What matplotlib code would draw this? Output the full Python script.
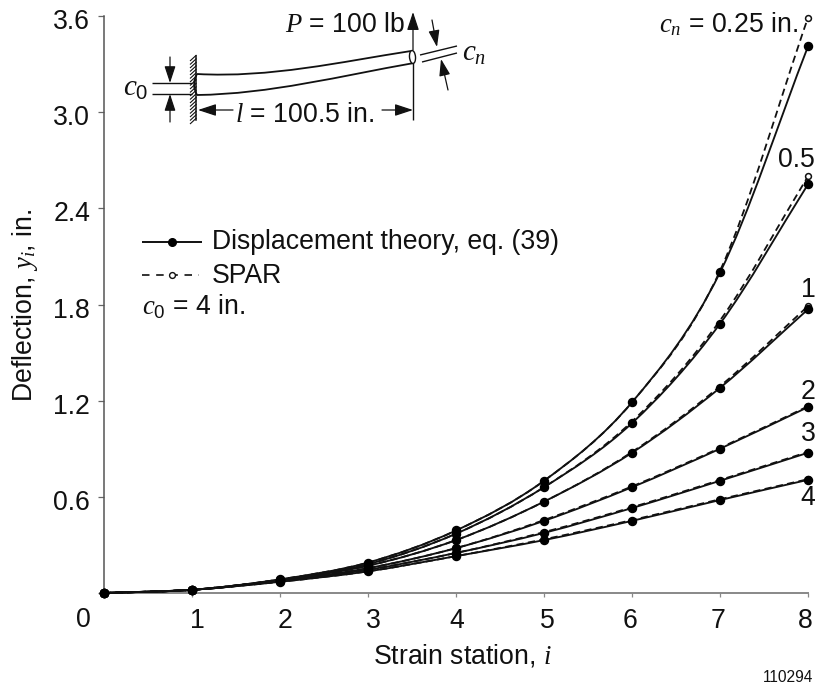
import numpy as np
import matplotlib
matplotlib.use("Agg")
import matplotlib.pyplot as plt
from matplotlib.path import Path
from matplotlib.patches import PathPatch, Ellipse
from matplotlib.transforms import ScaledTranslation

plt.rcParams['font.family'] = ['Liberation Sans']
plt.rcParams['mathtext.fontset'] = 'custom'
plt.rcParams['mathtext.rm'] = 'Liberation Sans'
plt.rcParams['mathtext.it'] = 'Liberation Serif:italic'
plt.rcParams['mathtext.default'] = 'regular'

stations = [0, 1, 2, 3, 4, 5, 6, 7, 8]
disp_025 = [0, 0.02, 0.085, 0.19, 0.39, 0.70, 1.19, 2.00, 3.41]
disp_05 = [0, 0.02, 0.083, 0.18, 0.37, 0.66, 1.06, 1.68, 2.55]
disp_1 = [0, 0.02, 0.08, 0.17, 0.33, 0.57, 0.875, 1.28, 1.77]
disp_2 = [0, 0.02, 0.076, 0.155, 0.28, 0.45, 0.66, 0.90, 1.16]
disp_3 = [0, 0.02, 0.073, 0.145, 0.25, 0.375, 0.53, 0.70, 0.875]
disp_4 = [0, 0.02, 0.07, 0.135, 0.23, 0.33, 0.45, 0.58, 0.706]
spar_025 = [0, 0.02, 0.085, 0.19, 0.39, 0.70, 1.19, 2.01, 3.59]
spar_05 = [0, 0.02, 0.083, 0.18, 0.37, 0.66, 1.07, 1.70, 2.60]
spar_1 = [0, 0.02, 0.08, 0.17, 0.33, 0.57, 0.88, 1.29, 1.79]
spar_2 = [0, 0.02, 0.076, 0.155, 0.28, 0.455, 0.665, 0.905, 1.165]
spar_3 = [0, 0.02, 0.073, 0.145, 0.25, 0.38, 0.535, 0.705, 0.88]
spar_4 = [0, 0.02, 0.07, 0.135, 0.23, 0.335, 0.455, 0.585, 0.71]
solid_series = [disp_025, disp_05, disp_1, disp_2, disp_3, disp_4]
spar_series = [spar_025, spar_05, spar_1, spar_2, spar_3, spar_4]
y_ticks = [0, 0.6, 1.2, 1.8, 2.4, 3.0, 3.6]
y_tick_labels = ['', '0.6', '1.2', '1.8', '2.4', '3.0', '3.6']
x_tick_labels = ['', '1', '2', '3', '4', '5', '6', '7', '8']

W, H = 817, 686
INK = '#111111'
FS = 19.2
# small hand-lettering offsets of the x tick labels in pixels
x_label_shift = [0, 5, 5, 5, 1, 3, -2, -2, -3]


def smooth_path(xs, ys):
    xs, ys = np.asarray(xs, float), np.asarray(ys, float)
    m = np.gradient(ys, xs)
    verts = [(xs[0], ys[0])]
    codes = [Path.MOVETO]
    for i in range(len(xs) - 1):
        h = xs[i + 1] - xs[i]
        verts += [(xs[i] + h / 3, ys[i] + m[i] * h / 3),
                  (xs[i + 1] - h / 3, ys[i + 1] - m[i + 1] * h / 3),
                  (xs[i + 1], ys[i + 1])]
        codes += [Path.CURVE4] * 3
    return Path(verts, codes)


fig = plt.figure(figsize=(W / 100, H / 100), dpi=100)
ax = fig.add_axes([104 / W, 1 - 593 / H, (808 - 104) / W, (593 - 16) / H])
ax.set_xlim(0, 8)
ax.set_ylim(0, 3.6)
for s in ('top', 'right'):
    ax.spines[s].set_visible(False)
ax.spines['left'].set_color('#555555')
ax.spines['left'].set_linewidth(1.1)
ax.spines['bottom'].set_color('#888888')
ax.spines['bottom'].set_linewidth(1.4)
ax.set_xticks(stations)
ax.set_xticklabels(x_tick_labels, fontsize=FS, color=INK)
ax.set_yticks(y_ticks)
ax.set_yticklabels(y_tick_labels, fontsize=FS, color=INK)
ax.tick_params(axis='y', length=4, width=0.9, color='#666666', pad=6)
ax.tick_params(axis='x', length=3, width=0.9, color='#888888', pad=8)
for lbl, dx in zip(ax.get_xticklabels(), x_label_shift):
    lbl.set_transform(lbl.get_transform() + ScaledTranslation(dx / 100, 0, fig.dpi_scale_trans))
for lbl in ax.get_yticklabels():
    lbl.set_transform(lbl.get_transform() + ScaledTranslation(0, -3 / 100, fig.dpi_scale_trans))

for ys in spar_series:
    ax.add_patch(PathPatch(smooth_path(stations, ys), fc='none', ec=INK, lw=1.3,
                           ls=(0, (4, 2.4)), clip_on=False, zorder=3))
    ax.plot(stations[-1], ys[-1], 'o', ms=4.2, mfc='white', mec=INK, mew=1.1,
            clip_on=False, zorder=4)
for ys in solid_series:
    ax.add_patch(PathPatch(smooth_path(stations, ys), fc='none', ec=INK, lw=1.35,
                           clip_on=False, zorder=5))
    ax.plot(stations, ys, 'o', ms=5.8, color='black', clip_on=False, zorder=6)

# overlay in image pixels for annotations and the inset sketch
ov = fig.add_axes([0, 0, 1, 1], zorder=10)
ov.set_xlim(0, W)
ov.set_ylim(H, 0)
ov.axis('off')
ov.patch.set_alpha(0)


def T(x, y, s, ha='left', va='center', fs=FS, **kw):
    ov.text(x, y + 2, s, ha=ha, va=va, fontsize=fs, color=INK, **kw)


def L(x0, y0, x1, y1, lw=1.0, **kw):
    ov.plot([x0, x1], [y0, y1], color=INK, lw=lw, solid_capstyle='butt', **kw)


def A(x0, y0, x1, y1, scale=12, lw=0.9):
    ov.annotate('', xy=(x1, y1), xytext=(x0, y0),
                arrowprops=dict(arrowstyle='-|>,head_width=0.28,head_length=0.85',
                                color=INK, lw=lw, shrinkA=0, shrinkB=0, mutation_scale=scale))


T(83, 618, '0', ha='center')
T(462, 654, r'Strain station, $\mathit{i}$', ha='center')
T(25, 303, r'Deflection, $\mathit{y_i}$, in.', ha='center', rotation=90)
T(813, 675, '110294', ha='right', fs=11.2)

T(798, 22, r'$\mathit{c_n}$ = 0.25 in.', ha='right')
T(778, 158, '0.5')
T(808, 288, '1', ha='center')
T(808, 390, '2', ha='center')
T(808, 432, '3', ha='center')
T(808, 496, '4', ha='center')

# legend
L(142, 242, 202, 242, lw=1.4)
ov.plot(172, 242, 'o', ms=5.5, color='black')
T(212, 240, 'Displacement theory, eq. (39)')
ov.plot([142, 199], [275, 275], color=INK, lw=1.2, ls=(0, (4.5, 4)))
ov.plot(172, 275, 'o', ms=4.2, mfc='white', mec=INK, mew=1.0)
T(212, 274, 'SPAR')
T(142, 305, r'$\mathit{c}_0$ = 4 in.')

# inset sketch of the tapered beam
ov.plot([196.5, 196.5], [56, 120], color=INK, lw=1.1)
for y in np.arange(58, 122, 3.5):
    L(190, y + 3, 196.5, y - 3, lw=0.8)
ov.add_patch(PathPatch(Path([(197, 74), (270, 78), (340, 62), (411, 51)],
                            [Path.MOVETO, Path.CURVE4, Path.CURVE4, Path.CURVE4]),
                       fc='none', ec=INK, lw=1.3))
ov.add_patch(PathPatch(Path([(197, 95), (270, 94), (340, 76), (414, 63)],
                            [Path.MOVETO, Path.CURVE4, Path.CURVE4, Path.CURVE4]),
                       fc='none', ec=INK, lw=1.3))
ov.add_patch(PathPatch(Path([(197, 74), (191, 84), (197, 95)],
                            [Path.MOVETO, Path.CURVE3, Path.CURVE3]),
                       fc='none', ec=INK, lw=1.3))
ov.add_patch(Ellipse((412.5, 57), 6, 13, fc='white', ec=INK, lw=1.0, angle=-5))
L(413, 63, 413, 120)
A(413, 50, 413, 12, scale=13)
A(233, 110, 198, 110, scale=13)
A(382, 110, 413, 110, scale=13)
L(152, 83, 192, 83)
L(152, 94, 192, 94)
A(170, 57, 170, 83)
A(170, 122, 170, 94)
L(420, 55, 457, 46)
L(422, 62, 457, 53)
A(432, 20, 437, 47)
A(448, 90, 441, 59)
T(123, 86, r'$\mathit{c}_0$', fs=21)
T(462, 51, r'$\mathit{c_n}$', fs=21)
T(285, 23, r'$\mathit{P}$ = 100 lb')
T(235, 113, r'$\mathit{l}$ = 100.5 in.')

fig.savefig('out.png', dpi=100)
